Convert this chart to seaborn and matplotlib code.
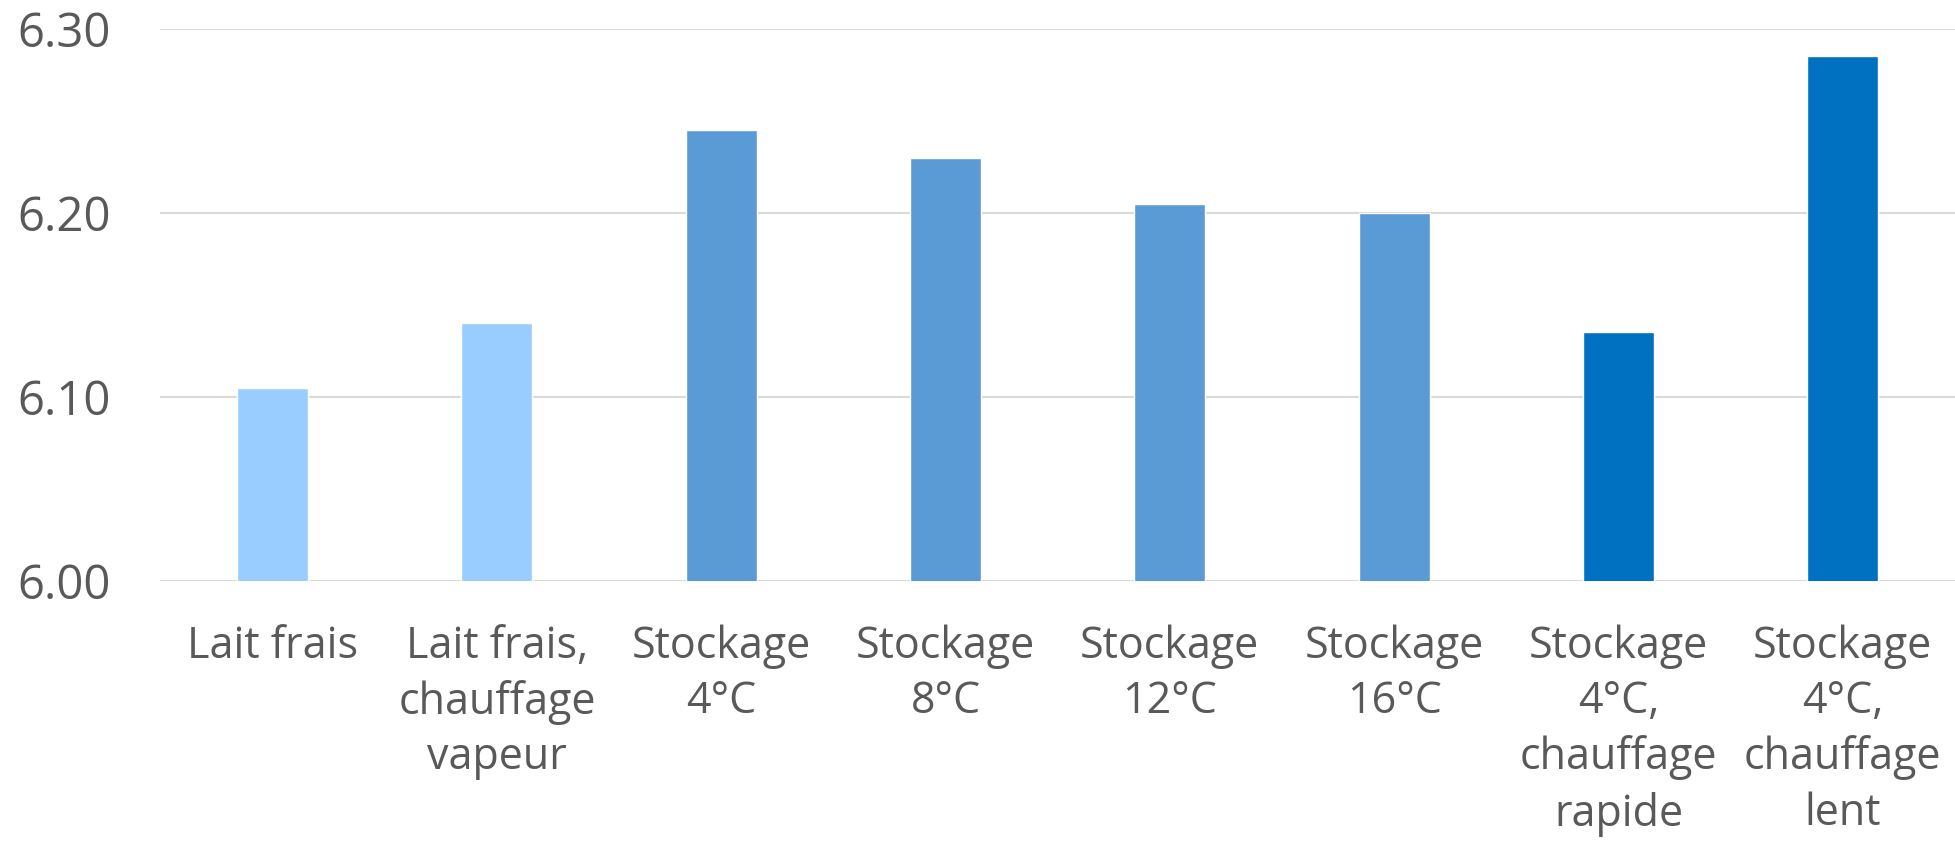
import pandas as pd
import seaborn as sns
import matplotlib.pyplot as plt

# data
labels = ['Lait frais', 'Lait frais,\nchauffage\nvapeur', 'Stockage\n4°C', 'Stockage\n8°C',
          'Stockage\n12°C', 'Stockage\n16°C', 'Stockage\n4°C,\nchauffage\nrapide',
          'Stockage\n4°C,\nchauffage\nlent']
values = [6.105, 6.14, 6.245, 6.23, 6.205, 6.20, 6.135, 6.285]
colors = ['#99CCFF', '#99CCFF', '#5B9BD5', '#5B9BD5', '#5B9BD5', '#5B9BD5', '#0070C0', '#0070C0']

df = pd.DataFrame({'label': labels, 'value': values})

sns.set_style('white')
plt.rcParams['font.family'] = ['Open Sans', 'DejaVu Sans']
text_col = '#595959'

fig, ax = plt.subplots(figsize=(19.56, 8.44), dpi=100)
fig.subplots_adjust(left=0.082, right=0.9995, bottom=0.3116, top=0.966)

sns.barplot(data=df, x='label', y='value', hue='label', palette=colors,
            legend=False, width=0.317, saturation=1, ax=ax)

ax.set_ylim(6.0, 6.3)
ax.set_yticks([6.0, 6.1, 6.2, 6.3])
ax.set_yticklabels(['6.00', '6.10', '6.20', '6.30'])
ax.yaxis.grid(True, color='#D9D9D9', linewidth=1.5)
ax.set_axisbelow(True)
for s in ax.spines.values():
    s.set_visible(False)

ax.tick_params(axis='y', length=0, pad=36, labelsize=34, labelcolor=text_col)
ax.tick_params(axis='x', length=0, pad=31, labelsize=31, labelcolor=text_col)
for t in ax.get_xticklabels():
    t.set_linespacing(1.33)
    t.set_verticalalignment('top')
ax.set_xlabel('')
ax.set_ylabel('')

fig.savefig('out.png', dpi=100)
